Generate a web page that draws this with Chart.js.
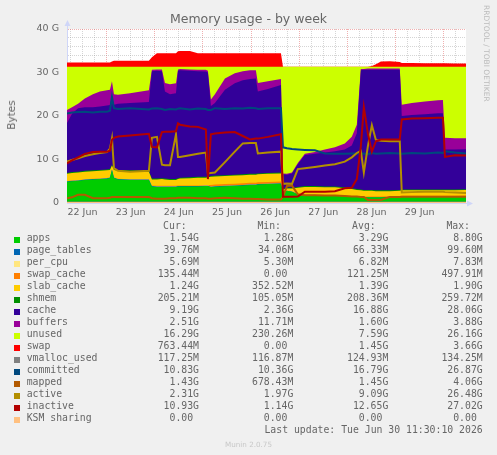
<!DOCTYPE html>
<html>
<head>
<meta charset="utf-8">
<title>Memory usage - by week</title>
<script src="https://cdn.jsdelivr.net/npm/chart.js@4.4.1/dist/chart.umd.min.js"></script>
<style>
  body { margin: 0; background: #f0f0f0; }
  #graph { position: relative; width: 497px; height: 455px; background: #f0f0f0; color: #666; font-family: 'DejaVu Sans', sans-serif; overflow: hidden; }
  #chart { position: absolute; left: 0; top: 0; }
  .title { position: absolute; left: 0; width: 497px; top: 10.6px; text-align: center; font-size: 12.5px; line-height: 15px; }
  .ylabel { position: absolute; left: 10.5px; top: 115px; font-size: 10.5px; white-space: nowrap; transform: translate(-50%, -50%) rotate(-90deg); }
  .vendor { position: absolute; left: 482px; top: 5px; font-size: 7.5px; line-height: 9px; color: #bbb; writing-mode: vertical-rl; white-space: nowrap; }
  .legend { position: absolute; left: 0; top: 0; width: 497px; font-family: 'DejaVu Sans Mono', monospace; font-size: 9.8px; line-height: 12px; white-space: pre; }
  .row { position: absolute; left: 0; width: 497px; height: 12px; }
  .sw { position: absolute; left: 14px; top: 5px; width: 6px; height: 6px; }
  .lab { position: absolute; left: 26.7px; top: 0; }
  .val { position: absolute; top: 0; text-align: right; }
  .footer { position: absolute; left: 0; width: 497px; top: 440px; text-align: center; font-size: 7.2px; line-height: 9px; color: #c8c8c8; }
</style>
</head>
<body>
<div id="graph">
  <canvas id="chart" width="497" height="230"></canvas>
  <div class="title">Memory usage - by week</div>
  <div class="ylabel">Bytes</div>
  <div class="vendor">RRDTOOL / TOBI OETIKER</div>
  <div class="legend" id="legend"></div>
  <div class="footer">Munin 2.0.75</div>
</div>
<script>
// time in hours since 22 Jun 00:00
const hours = [4.3, 6.8, 9.8, 13.2, 17.2, 20.7, 24.2, 25.7, 26.7, 27.7,
  29.7, 35.7, 45.1, 46.6, 49.1, 51.6, 53.1, 55.6, 58.6, 59.6,
  60.6, 65.5, 69.5, 73.5, 74.5, 76.0, 78.0, 83.0, 87.9, 91.9,
  95.4, 98.4, 99.4, 104.4, 110.9, 111.9, 113.9, 116.4, 119.3, 122.8,
  127.8, 132.8, 137.8, 142.7, 146.2, 148.7, 150.7, 152.2, 154.2, 156.2,
  158.2, 160.7, 165.2, 170.1, 171.1, 176.1, 182.6, 189.1, 191.6, 192.6,
  197.6, 203.1];

// stacked areas (GB)
const apps = [4.9, 5.0, 5.1, 5.3, 5.4, 5.5, 5.6, 5.8, 7.6, 5.8,
  5.4, 5.3, 5.3, 3.8, 3.7, 3.7, 3.7, 3.7, 3.7, 3.8,
  3.8, 3.8, 3.8, 3.9, 3.9, 3.65, 3.75, 3.85, 3.95, 4.05,
  4.15, 4.15, 4.25, 4.35, 4.45, 2.6, 2.8, 2.6, 2.0, 1.8,
  1.8, 1.7, 1.7, 1.6, 1.5, 1.4, 1.3, 1.3, 1.3, 1.3,
  1.3, 1.3, 1.4, 1.4, 1.5, 1.5, 1.5, 1.5, 1.5, 1.5,
  1.5, 1.54];
const pageTables = [0.09, 0.09, 0.09, 0.09, 0.09, 0.09, 0.09, 0.09, 0.09, 0.09,
  0.09, 0.09, 0.09, 0.09, 0.09, 0.09, 0.09, 0.09, 0.09, 0.09,
  0.09, 0.09, 0.09, 0.09, 0.09, 0.09, 0.09, 0.09, 0.09, 0.09,
  0.09, 0.09, 0.09, 0.09, 0.09, 0.04, 0.04, 0.04, 0.04, 0.04,
  0.04, 0.04, 0.04, 0.04, 0.04, 0.04, 0.04, 0.04, 0.04, 0.04,
  0.04, 0.04, 0.04, 0.04, 0.04, 0.04, 0.04, 0.04, 0.04, 0.04,
  0.04, 0.04];
const perCpu = [0.007, 0.007, 0.007, 0.007, 0.007, 0.007, 0.007, 0.007, 0.007, 0.007,
  0.007, 0.007, 0.007, 0.007, 0.007, 0.007, 0.007, 0.007, 0.007, 0.007,
  0.007, 0.007, 0.007, 0.007, 0.007, 0.007, 0.007, 0.007, 0.007, 0.007,
  0.007, 0.007, 0.007, 0.007, 0.007, 0.006, 0.006, 0.006, 0.006, 0.006,
  0.006, 0.006, 0.006, 0.006, 0.006, 0.006, 0.006, 0.006, 0.006, 0.006,
  0.006, 0.006, 0.006, 0.006, 0.006, 0.006, 0.006, 0.006, 0.006, 0.006,
  0.006, 0.006];
const swapCache = [0.05, 0.05, 0.05, 0.05, 0.05, 0.05, 0.05, 0.05, 0.05, 0.05,
  0.05, 0.05, 0.05, 0.15, 0.15, 0.15, 0.15, 0.15, 0.15, 0.15,
  0.15, 0.15, 0.15, 0.15, 0.15, 0.4, 0.4, 0.4, 0.4, 0.4,
  0.4, 0.4, 0.4, 0.4, 0.4, 0.08, 0.08, 0.08, 0.08, 0.08,
  0.08, 0.08, 0.08, 0.08, 0.08, 0.08, 0.14, 0.14, 0.14, 0.14,
  0.14, 0.14, 0.14, 0.14, 0.14, 0.14, 0.14, 0.14, 0.14, 0.14,
  0.14, 0.135];
const slabCache = [1.66, 1.76, 1.76, 1.76, 1.76, 1.76, 1.76, 1.66, 0.86, 1.66,
  1.86, 1.86, 1.76, 1.36, 1.46, 1.56, 1.46, 1.36, 1.36, 1.46,
  1.56, 1.66, 1.76, 1.66, 1.76, 1.86, 1.86, 1.86, 1.86, 1.86,
  1.86, 1.86, 1.86, 1.86, 1.86, 0.38, 0.38, 0.58, 1.38, 1.78,
  1.78, 1.78, 1.78, 1.68, 1.58, 1.48, 1.42, 1.32, 1.32, 1.32,
  1.22, 1.22, 1.12, 1.22, 1.22, 1.22, 1.22, 1.22, 1.22, 1.22,
  1.22, 1.24];
const shmem = [0.2, 0.2, 0.2, 0.2, 0.2, 0.2, 0.2, 0.2, 0.2, 0.2,
  0.2, 0.2, 0.2, 0.2, 0.2, 0.2, 0.2, 0.2, 0.2, 0.2,
  0.2, 0.2, 0.2, 0.2, 0.2, 0.2, 0.2, 0.2, 0.2, 0.2,
  0.2, 0.2, 0.2, 0.2, 0.2, 0.2, 0.2, 0.2, 0.2, 0.2,
  0.2, 0.2, 0.2, 0.2, 0.2, 0.2, 0.2, 0.2, 0.2, 0.2,
  0.2, 0.2, 0.2, 0.2, 0.2, 0.2, 0.2, 0.2, 0.2, 0.2,
  0.2, 0.205];
const cache = [11.5, 13.4, 14.6, 14.6, 14.5, 14.6, 14.7, 14.7, 15.7, 14.8,
  15.2, 15.5, 15.8, 24.7, 24.8, 24.6, 20.0, 19.5, 19.7, 24.7,
  24.7, 24.5, 24.3, 24.2, 23.9, 16.1, 16.7, 19.6, 21.0, 21.6,
  21.8, 21.9, 18.8, 19.3, 20.1, 3.3, 3.0, 3.3, 5.2, 7.1,
  7.4, 7.8, 8.1, 8.7, 9.8, 12.8, 27.4, 27.6, 27.6, 27.6,
  27.7, 27.7, 27.7, 27.6, 16.9, 17.1, 17.3, 17.5, 17.5, 9.2,
  9.2, 9.19];
const buffers = [3.0, 1.5, 1.0, 2.0, 3.0, 3.4, 3.5, 3.5, 3.5, 2.4,
  2.1, 2.2, 2.7, 0.3, 0.3, 0.4, 2.0, 2.3, 2.3, 0.3,
  0.3, 0.3, 0.3, 0.4, 0.4, 1.5, 2.0, 2.6, 2.3, 2.1,
  2.0, 1.9, 2.0, 1.8, 1.4, 0.2, 0.2, 0.2, 0.3, 0.3,
  0.4, 0.7, 0.9, 1.4, 2.0, 2.0, 0.3, 0.2, 0.3, 0.3,
  0.3, 0.3, 0.3, 0.3, 2.6, 2.8, 2.9, 3.0, 3.1, 2.7,
  2.6, 2.51];
const unused = [9.9, 9.3, 8.5, 7.3, 6.3, 5.7, 5.4, 5.3, 3.3, 6.3,
  6.4, 6.1, 5.4, 0.7, 0.6, 0.6, 3.7, 4.0, 3.8, 0.6,
  0.5, 0.6, 0.7, 0.7, 0.9, 7.5, 6.3, 2.7, 1.5, 1.0,
  0.8, 0.8, 3.7, 3.3, 2.8, 24.5, 24.6, 24.3, 22.1, 20.0,
  19.6, 19.0, 18.5, 17.6, 16.1, 13.3, 0.5, 0.5, 0.4, 0.4,
  0.4, 0.4, 0.4, 0.4, 8.7, 8.3, 8.0, 7.7, 7.6, 16.3,
  16.4, 16.44];
const swap = [1.0, 1.0, 1.0, 1.0, 1.0, 1.0, 1.0, 1.0, 1.2, 1.4,
  1.4, 1.4, 1.4, 2.2, 3.1, 3.1, 3.1, 3.1, 3.1, 3.6,
  3.65, 3.65, 3.1, 3.1, 3.1, 3.1, 3.1, 3.1, 3.1, 3.1,
  3.1, 3.1, 3.1, 3.1, 3.1, 0, 0, 0, 0, 0,
  0, 0, 0, 0, 0, 0, 0, 0, 0, 0.2,
  0.6, 1.2, 1.3, 1.1, 0.9, 0.85, 0.8, 0.8, 0.8, 0.8,
  0.78, 0.76];

// lines (GB)
const vmallocUsed = [0.13, 0.13, 0.13, 0.13, 0.13, 0.13, 0.13, 0.13, 0.13, 0.13,
  0.13, 0.13, 0.13, 0.13, 0.13, 0.13, 0.13, 0.13, 0.13, 0.13,
  0.13, 0.13, 0.13, 0.13, 0.13, 0.13, 0.13, 0.13, 0.13, 0.13,
  0.13, 0.13, 0.13, 0.13, 0.13, 0.12, 0.12, 0.12, 0.12, 0.12,
  0.12, 0.12, 0.12, 0.12, 0.12, 0.12, 0.12, 0.12, 0.12, 0.12,
  0.12, 0.12, 0.12, 0.12, 0.12, 0.12, 0.12, 0.12, 0.12, 0.12,
  0.12, 0.12];
const committed = [20.6, 20.8, 20.9, 21.0, 20.8, 21.0, 21.0, 21.2, 24.4, 21.8,
  21.6, 21.8, 21.5, 21.7, 21.8, 21.6, 21.4, 21.6, 21.5, 21.7,
  21.8, 21.5, 21.7, 21.6, 21.4, 21.4, 21.8, 21.6, 21.8, 21.7,
  21.9, 21.8, 21.6, 21.8, 21.8, 12.8, 12.6, 12.4, 12.3, 12.2,
  12.1, 11.4, 11.3, 11.3, 11.4, 11.4, 11.3, 11.4, 11.2, 11.5,
  11.3, 11.4, 11.5, 11.4, 11.3, 11.5, 11.4, 11.6, 11.5, 11.9,
  11.6, 11.4];
const mapped = [1.1, 1.3, 1.9, 1.9, 1.1, 1.1, 1.1, 1.2, 1.4, 1.4,
  1.4, 1.4, 1.4, 1.1, 1.0, 1.0, 1.0, 1.1, 1.1, 1.2,
  1.2, 1.2, 1.1, 1.1, 1.0, 1.0, 1.1, 1.2, 1.1, 1.0,
  1.0, 0.9, 0.9, 0.8, 0.8, 1.5, 3.9, 4.0, 2.0, 1.8,
  1.8, 1.7, 1.7, 1.6, 1.5, 1.5, 1.4, 1.4, 0.7, 0.7,
  0.7, 0.7, 1.4, 1.4, 1.45, 1.45, 1.45, 1.45, 1.45, 1.45,
  1.44, 1.43];
const active = [9.5, 9.9, 10.3, 10.8, 11.2, 11.5, 11.7, 12.5, 14.9, 8.0,
  7.4, 7.2, 7.4, 15.0, 15.2, 8.8, 8.7, 8.7, 15.8, 10.6,
  10.6, 11.0, 11.3, 11.6, 6.8, 6.9, 7.0, 9.4, 11.8, 13.7,
  13.8, 13.8, 11.4, 11.6, 11.8, 4.4, 4.5, 4.4, 7.8, 8.0,
  8.3, 8.6, 8.9, 9.5, 10.5, 11.5, 12.0, 7.0, 13.0, 17.9,
  14.5, 14.3, 14.2, 14.2, 2.4, 2.5, 2.6, 2.6, 2.6, 2.5,
  2.4, 2.31];
const inactive = [9.1, 9.8, 10.5, 11.3, 11.7, 11.8, 11.8, 12.0, 14.5, 15.0,
  15.3, 15.5, 15.9, 12.9, 12.8, 16.3, 16.4, 16.4, 16.5, 18.3,
  18.0, 17.6, 17.5, 16.9, 5.5, 15.8, 16.0, 16.2, 16.3, 15.4,
  14.6, 14.8, 14.8, 15.2, 15.8, 1.45, 1.45, 1.45, 1.5, 2.6,
  2.6, 2.6, 2.7, 3.4, 3.5, 5.5, 13.0, 22.0, 16.0, 11.8,
  14.2, 14.6, 14.6, 14.6, 19.2, 19.4, 19.5, 19.6, 19.6, 10.6,
  11.0, 10.93];
const ksmSharing = [0, 0, 0, 0, 0, 0, 0, 0, 0, 0,
  0, 0, 0, 0, 0, 0, 0, 0, 0, 0,
  0, 0, 0, 0, 0, 0, 0, 0, 0, 0,
  0, 0, 0, 0, 0, 0, 0, 0, 0, 0,
  0, 0, 0, 0, 0, 0, 0, 0, 0, 0,
  0, 0, 0, 0, 0, 0, 0, 0, 0, 0,
  0, 0];

// axes
const xGridHours = [6, 12, 18, 24, 30, 36, 42, 48, 54, 60, 66, 72, 78, 84, 90, 96, 102,
  108, 114, 120, 126, 132, 138, 144, 150, 156, 162, 168, 174, 180, 186, 192, 198];
const dayNoonHours = [12, 36, 60, 84, 108, 132, 156, 180];
const dayLabels = ['22 Jun', '23 Jun', '24 Jun', '25 Jun', '26 Jun', '27 Jun', '28 Jun', '29 Jun'];
const yGridValues = [0, 2, 4, 6, 8, 10, 12, 14, 16, 18, 20, 22, 24, 26, 28, 30, 32, 34, 36, 38, 40];
const yLabelValues = [0, 10, 20, 30, 40];
const yLabelTexts = ['0', '10 G', '20 G', '30 G', '40 G'];

// legend table
const names = ['apps', 'page_tables', 'per_cpu', 'swap_cache', 'slab_cache', 'shmem', 'cache', 'buffers',
  'unused', 'swap', 'vmalloc_used', 'committed', 'mapped', 'active', 'inactive', 'KSM sharing'];
const colors = ['#00cc00', '#0066b3', '#ffe680', '#ff8000', '#ffcc00', '#008f00', '#330099', '#990099',
  '#ccff00', '#ff0000', '#808080', '#00487d', '#b35a00', '#b38f00', '#b30000', '#ffc080'];
const curVals = ['1.54G', '39.76M', '5.69M', '135.44M', '1.24G', '205.21M', '9.19G', '2.51G',
  '16.29G', '763.44M', '117.25M', '10.83G', '1.43G', '2.31G', '10.93G', '0.00 '];
const minVals = ['1.28G', '34.06M', '5.30M', '0.00 ', '352.52M', '105.05M', '2.36G', '11.71M',
  '230.26M', '0.00 ', '116.87M', '10.36G', '678.43M', '1.97G', '1.14G', '0.00 '];
const avgVals = ['3.29G', '66.33M', '6.82M', '121.25M', '1.39G', '208.36M', '16.88G', '1.60G',
  '7.59G', '1.45G', '124.93M', '16.79G', '1.45G', '9.09G', '12.65G', '0.00 '];
const maxVals = ['8.80G', '99.60M', '7.83M', '497.91M', '1.90G', '259.72M', '28.06G', '3.88G',
  '26.16G', '3.66G', '134.25M', '26.87G', '4.06G', '26.48G', '27.02G', '0.00 '];
const lastUpdate = 'Last update: Tue Jun 30 11:30:10 2026';

const areaData = [apps, pageTables, perCpu, swapCache, slabCache, shmem, cache, buffers, unused, swap];
const lineData = [vmallocUsed, committed, mapped, active, inactive, ksmSharing];

const MINOR = 'rgba(150,150,150,0.4)';
const MAJOR = 'rgba(222,80,80,0.45)';
const AXIS = '#cfd6f8';

const toPoints = vals => vals.map((v, i) => ({ x: hours[i], y: v }));

const datasets = [];
areaData.forEach((vals, i) => {
  datasets.push({
    label: names[i],
    data: toPoints(vals),
    stack: 'memory',
    fill: 'origin',
    backgroundColor: colors[i],
    borderColor: 'rgba(0,0,0,0)',
    borderWidth: 0,
    pointRadius: 0,
    order: 10
  });
});
lineData.forEach((vals, j) => {
  const i = areaData.length + j;
  datasets.push({
    label: names[i],
    data: toPoints(vals),
    stack: names[i],
    fill: false,
    borderColor: colors[i],
    borderWidth: 2,
    pointRadius: 0,
    order: lineData.length - j
  });
});

// white plot background + axis arrows
const canvasPlugin = {
  id: 'rrdCanvas',
  beforeDraw(chart) {
    const { ctx, chartArea: a } = chart;
    ctx.save();
    ctx.fillStyle = '#ffffff';
    ctx.fillRect(a.left, a.top, a.right - a.left, a.bottom - a.top);
    ctx.restore();
  },
  afterDraw(chart) {
    const { ctx, chartArea: a } = chart;
    ctx.save();
    ctx.strokeStyle = AXIS;
    ctx.fillStyle = AXIS;
    ctx.lineWidth = 1;
    ctx.beginPath();
    ctx.moveTo(a.left + 0.5, a.top);
    ctx.lineTo(a.left + 0.5, a.top - 3);
    ctx.moveTo(a.right, a.bottom + 0.5);
    ctx.lineTo(a.right + 2, a.bottom + 0.5);
    ctx.stroke();
    ctx.beginPath();
    ctx.moveTo(a.left - 2.5, a.top - 3);
    ctx.lineTo(a.left + 3.5, a.top - 3);
    ctx.lineTo(a.left + 0.5, a.top - 9);
    ctx.closePath();
    ctx.fill();
    ctx.beginPath();
    ctx.moveTo(a.right + 1, a.bottom - 2.5);
    ctx.lineTo(a.right + 1, a.bottom + 3.5);
    ctx.lineTo(a.right + 7, a.bottom + 0.5);
    ctx.closePath();
    ctx.fill();
    ctx.restore();
  }
};

const tickFont = { family: 'DejaVu Sans', size: 9.5 };

new Chart(document.getElementById('chart'), {
  type: 'line',
  data: { datasets },
  options: {
    responsive: false,
    devicePixelRatio: 1,
    animation: false,
    events: [],
    layout: { padding: { left: 0, right: 31, top: 29, bottom: 0 } },
    plugins: { legend: { display: false }, tooltip: { enabled: false }, title: { display: false } },
    elements: { line: { tension: 0 } },
    scales: {
      x: {
        type: 'linear',
        min: hours[0],
        max: hours[hours.length - 1],
        z: 1,
        afterBuildTicks: axis => { axis.ticks = xGridHours.map(v => ({ value: v })); },
        afterFit: axis => { axis.height = 27; },
        grid: {
          drawTicks: false,
          lineWidth: 1,
          color: c => (c.tick && c.tick.value % 24 === 0 ? MAJOR : MINOR)
        },
        border: { color: AXIS, width: 1, dash: [1, 1] },
        ticks: {
          autoSkip: false,
          maxRotation: 0,
          padding: 4,
          color: '#666',
          font: tickFont,
          callback: v => {
            const k = dayNoonHours.indexOf(v);
            return k >= 0 ? dayLabels[k] : '';
          }
        }
      },
      y: {
        stacked: true,
        min: 0,
        max: 40,
        z: 1,
        afterBuildTicks: axis => { axis.ticks = yGridValues.map(v => ({ value: v })); },
        afterFit: axis => { axis.width = 67; },
        grid: {
          drawTicks: false,
          lineWidth: 1,
          color: c => (c.tick && c.tick.value % 10 === 0 ? MAJOR : MINOR)
        },
        border: { color: AXIS, width: 1, dash: [1, 1] },
        ticks: {
          autoSkip: false,
          padding: 8,
          color: '#666',
          font: tickFont,
          callback: v => {
            const k = yLabelValues.indexOf(v);
            return k >= 0 ? yLabelTexts[k] : '';
          }
        }
      }
    }
  },
  plugins: [canvasPlugin]
});

// legend rows below the plot
const legend = document.getElementById('legend');
const colEdges = [199, 293.3, 388.3, 482.7];
const headEdges = [186.7, 281, 375.7, 470];
const heads = ['Cur:', 'Min:', 'Avg:', 'Max:'];

function addText(parent, cls, text, rightEdge) {
  const s = document.createElement('span');
  s.className = cls;
  s.textContent = text;
  if (rightEdge !== undefined) s.style.right = (497 - rightEdge) + 'px';
  parent.appendChild(s);
  return s;
}

const head = document.createElement('div');
head.className = 'row';
head.style.top = '220px';
heads.forEach((h, k) => addText(head, 'val', h, headEdges[k]));
legend.appendChild(head);

names.forEach((name, i) => {
  const row = document.createElement('div');
  row.className = 'row';
  row.style.top = (232 + i * 12) + 'px';
  const sw = document.createElement('span');
  sw.className = 'sw';
  sw.style.background = colors[i];
  row.appendChild(sw);
  addText(row, 'lab', name);
  [curVals[i], minVals[i], avgVals[i], maxVals[i]].forEach((v, k) => addText(row, 'val', v, colEdges[k]));
  legend.appendChild(row);
});

const upd = document.createElement('div');
upd.className = 'row';
upd.style.top = (232 + names.length * 12) + 'px';
addText(upd, 'val', lastUpdate, colEdges[3]);
legend.appendChild(upd);
</script>
</body>
</html>
